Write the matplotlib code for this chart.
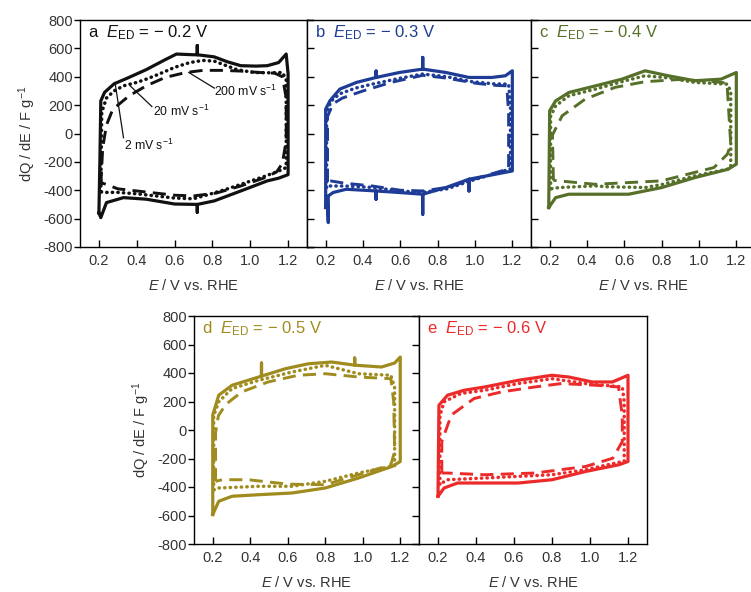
import matplotlib
matplotlib.use("Agg")
import matplotlib.pyplot as plt

plt.rcParams["font.family"] = ["Liberation Sans", "DejaVu Sans"]
plt.rcParams["mathtext.fontset"] = "custom"
plt.rcParams["mathtext.rm"] = "Liberation Sans"
plt.rcParams["mathtext.it"] = "Liberation Sans:italic"
plt.rcParams["axes.unicode_minus"] = False

# ---- data: potential E (V vs. RHE) and dQ/dE (F g-1) ----
# each curve is a closed CV loop: anodic sweep 0.2 -> 1.2, cathodic back
# panel a, E_ED = -0.2 V
a2_E = [0.20, 0.205, 0.21, 0.23, 0.28, 0.35, 0.45, 0.55, 0.61, 0.70, 0.72, 0.72, 0.72, 0.81, 0.88,
        0.95, 1.03, 1.09, 1.15, 1.19, 1.20, 1.20, 1.15, 1.09, 0.95, 0.81, 0.72, 0.72, 0.72, 0.60,
        0.45, 0.33, 0.24, 0.21, 0.20]
a2_j = [-560, -200, 230, 290, 350, 390, 450, 520, 560, 555, 555, 620, 555, 540, 505,
        478, 475, 478, 500, 560, 420, -290, -315, -334, -405, -475, -500, -555, -500, -497,
        -463, -452, -487, -593, -560]
a20_E = [0.21, 0.215, 0.24, 0.28, 0.33, 0.40, 0.45, 0.52, 0.60, 0.68, 0.75, 0.81, 0.87, 0.93, 1.02,
         1.10, 1.17, 1.19, 1.19, 1.15, 1.08, 0.98, 0.88, 0.78, 0.70, 0.60, 0.50, 0.40, 0.30, 0.22, 0.21]
a20_j = [-410, 150, 250, 300, 336, 360, 383, 420, 466, 500, 515, 510, 480, 450, 430,
         428, 430, 380, -240, -265, -300, -345, -390, -430, -460, -455, -440, -425, -415, -415, -410]
a200_E = [0.21, 0.22, 0.24, 0.27, 0.30, 0.36, 0.45, 0.55, 0.66, 0.75, 0.85, 0.95, 1.05, 1.13, 1.17,
          1.19, 1.19, 1.17, 1.14, 1.08, 0.95, 0.82, 0.70, 0.60, 0.50, 0.40, 0.30, 0.22, 0.21]
a200_j = [-360, -100, 60, 160, 200, 266, 336, 395, 430, 445, 445, 440, 430, 425, 400,
          250, -50, -210, -270, -310, -370, -420, -440, -435, -420, -405, -390, -350, -360]

# panel b, E_ED = -0.3 V
b2_E = [0.20, 0.20, 0.223, 0.276, 0.365, 0.47, 0.47, 0.47, 0.595, 0.72, 0.72, 0.72, 0.844, 0.968,
        1.09, 1.163, 1.20, 1.20, 1.09, 0.968, 0.968, 0.968, 0.844, 0.72, 0.72, 0.72, 0.595, 0.47,
        0.47, 0.47, 0.31, 0.24, 0.214, 0.214, 0.209, 0.20]
b2_j = [-522, 172, 231, 313, 360, 395, 440, 395, 430, 454, 536, 454, 430, 395,
        395, 407, 442, -264, -292, -322, -405, -322, -381, -428, -569, -428, -416, -405,
        -463, -405, -393, -416, -440, -628, -475, -522]
b20_E = [0.205, 0.205, 0.23, 0.276, 0.36, 0.45, 0.60, 0.72, 0.85, 0.985, 1.10, 1.18, 1.19, 1.19,
         1.10, 0.985, 0.85, 0.72, 0.60, 0.45, 0.30, 0.22, 0.205]
b20_j = [-380, 150, 230, 280, 320, 348, 390, 419, 400, 365, 350, 348, 200, -250,
         -285, -330, -390, -415, -405, -380, -370, -370, -380]
b200_E = [0.21, 0.21, 0.24, 0.29, 0.40, 0.55, 0.72, 0.85, 1.00, 1.10, 1.17, 1.18, 1.18, 1.10,
          1.00, 0.85, 0.72, 0.60, 0.45, 0.30, 0.23, 0.21]
b200_j = [-340, 120, 210, 250, 300, 360, 410, 390, 355, 340, 336, 150, -250, -280,
          -320, -380, -405, -400, -370, -350, -335, -340]

# panel c, E_ED = -0.4 V
c2_E = [0.195, 0.20, 0.232, 0.303, 0.446, 0.587, 0.711, 0.835, 0.977, 1.118, 1.20, 1.20, 1.156,
        0.977, 0.80, 0.623, 0.446, 0.303, 0.232, 0.195]
c2_j = [-522, 160, 230, 289, 336, 383, 442, 407, 372, 383, 430, -216, -252,
        -311, -381, -428, -428, -428, -452, -522]
c20_E = [0.205, 0.205, 0.232, 0.303, 0.446, 0.60, 0.711, 0.85, 0.977, 1.15, 1.17, 1.17, 1.15,
         0.977, 0.80, 0.711, 0.50, 0.446, 0.25, 0.205]
c20_j = [-390, 120, 195, 266, 313, 370, 407, 390, 360, 348, 300, -240, -252,
         -299, -360, -381, -375, -369, -381, -390]
c200_E = [0.22, 0.215, 0.267, 0.39, 0.55, 0.71, 0.887, 1.05, 1.15, 1.17, 1.152, 1.08, 0.798,
          0.444, 0.25, 0.22]
c200_j = [-330, -10, 125, 242, 325, 365, 380, 370, 355, -75, -146, -240, -334,
          -358, -334, -330]

# panel d, E_ED = -0.5 V
d2_E = [0.20, 0.20, 0.232, 0.303, 0.46, 0.46, 0.46, 0.587, 0.711, 0.835, 0.957, 0.957, 0.957, 1.10,
        1.17, 1.20, 1.20, 1.156, 0.977, 0.80, 0.623, 0.446, 0.303, 0.232, 0.20]
d2_j = [-593, 105, 244, 314, 378, 470, 378, 430, 465, 477, 455, 505, 455, 442,
        470, 512, -221, -256, -337, -407, -442, -454, -465, -500, -593]
d20_E = [0.205, 0.205, 0.232, 0.303, 0.446, 0.623, 0.80, 0.977, 1.15, 1.17, 1.17, 1.15, 0.977,
         0.80, 0.623, 0.446, 0.232, 0.205]
d20_j = [-420, 100, 198, 291, 349, 407, 454, 395, 384, 300, -250, -256, -302,
         -360, -395, -395, -407, -420]
d200_E = [0.215, 0.215, 0.23, 0.27, 0.354, 0.495, 0.655, 0.80, 0.977, 1.15, 1.165, 1.17, 1.15,
          0.977, 0.80, 0.60, 0.39, 0.25, 0.215]
d200_j = [-360, -20, 100, 180, 267, 337, 384, 395, 372, 360, 200, -150, -244,
          -314, -384, -380, -349, -349, -360]

# panel e, E_ED = -0.6 V
e2_E = [0.20, 0.205, 0.25, 0.338, 0.446, 0.623, 0.80, 0.888, 1.012, 1.118, 1.20, 1.20, 1.152,
        0.977, 0.80, 0.623, 0.446, 0.303, 0.232, 0.20]
e2_j = [-465, 174, 244, 279, 302, 349, 384, 372, 337, 337, 384, -221, -244,
        -291, -349, -372, -372, -372, -407, -465]
e20_E = [0.21, 0.21, 0.232, 0.32, 0.446, 0.623, 0.80, 0.977, 1.17, 1.18, 1.18, 1.17, 0.977,
         0.80, 0.446, 0.25, 0.21]
e20_j = [-380, 100, 198, 256, 279, 326, 360, 326, 302, 200, -221, -221, -279,
         -314, -337, -349, -380]
e200_E = [0.22, 0.22, 0.27, 0.39, 0.533, 0.71, 0.85, 1.03, 1.15, 1.17, 1.17, 1.12, 0.977,
          0.71, 0.446, 0.25, 0.22]
e200_j = [-302, -81, 105, 221, 267, 302, 326, 314, 302, 100, -81, -198, -256,
          -302, -314, -302, -302]

panel_letters = ["a", "b", "c", "d", "e"]
panel_eed = ["0.2", "0.3", "0.4", "0.5", "0.6"]
panel_colors = ["#111111", "#1e3c96", "#56702a", "#a08c1e", "#ec2a2a"]
x_ticks = [0.2, 0.4, 0.6, 0.8, 1.0, 1.2]
y_ticks = [-800, -600, -400, -200, 0, 200, 400, 600, 800]

curves = [
    [(a2_E, a2_j), (a20_E, a20_j), (a200_E, a200_j)],
    [(b2_E, b2_j), (b20_E, b20_j), (b200_E, b200_j)],
    [(c2_E, c2_j), (c20_E, c20_j), (c200_E, c200_j)],
    [(d2_E, d2_j), (d20_E, d20_j), (d200_E, d200_j)],
    [(e2_E, e2_j), (e20_E, e20_j), (e200_E, e200_j)],
]

# axes rectangles in figure pixels (left, top, width, height)
W, H = 751, 592
boxes = [
    (80, 20, 227, 227), (307, 20, 224, 227), (531, 20, 224, 227),
    (194, 316, 225, 228), (419, 316, 228, 228),
]

fig = plt.figure(figsize=(W / 100, H / 100), dpi=100)
text_color = "#333333"
fs = 10.5

for i, (x0, y0, w, h) in enumerate(boxes):
    ax = fig.add_axes([x0 / W, 1 - (y0 + h) / H, w / W, h / H])
    col = panel_colors[i]
    (E2, j2), (E20, j20), (E200, j200) = curves[i]
    ax.plot(E2, j2, color=col, lw=2.3, solid_joinstyle="round")
    ax.plot(E20, j20, color=col, lw=2.5, linestyle=(0, (0.1, 1.5)), dash_capstyle="round")
    ax.plot(E200, j200, color=col, lw=2.1, linestyle=(0, (4.5, 2.5)))

    ax.set_xlim(0.1, 1.3)
    ax.set_ylim(-800, 800)
    ax.set_xticks(x_ticks)
    ax.set_xticklabels([f"{t:.1f}" for t in x_ticks])
    ax.set_yticks(y_ticks)
    ax.tick_params(axis="x", direction="in", length=5, width=1, labelsize=fs,
                   labelcolor=text_color, pad=5)
    for s in ax.spines.values():
        s.set_linewidth(1.0)

    if i in (0, 3):
        ax.set_yticklabels([str(t) for t in y_ticks])
        ax.tick_params(axis="y", direction="out", length=4, width=1, labelsize=fs,
                       labelcolor=text_color, pad=1)
        ax.set_ylabel("dQ / dE / F g$^{-1}$", fontsize=fs, color=text_color, labelpad=4)
    else:
        ax.set_yticklabels([])
        ax.tick_params(axis="y", direction="in" if i in (1, 2) else "out",
                       length=5, width=1)
    if i == 0:
        ax.tick_params(axis="y", right=True)
    ax.set_xlabel("$\\mathit{E}$ / V vs. RHE", fontsize=fs, color=text_color, labelpad=7)

    ax.text(0.035, 0.945,
            panel_letters[i] + "  $\\mathit{E}_{\\mathrm{ED}}$ = $-$ " + panel_eed[i] + " V",
            transform=ax.transAxes, fontsize=12, color=col, ha="left", va="center")

    if i == 0:
        ann = dict(fontsize=8.8, color="#111111", ha="left", va="center")
        ax.plot([0.675, 0.81], [430, 320], color="#111111", lw=0.9)
        ax.text(0.81, 300, "200 mV s$^{-1}$", **ann)
        ax.plot([0.365, 0.48], [336, 190], color="#111111", lw=0.9)
        ax.text(0.485, 155, "20 mV s$^{-1}$", **ann)
        ax.plot([0.285, 0.33], [360, -30], color="#111111", lw=0.9)
        ax.text(0.335, -87, "2 mV s$^{-1}$", **ann)

fig.savefig("out.png", dpi=100)
